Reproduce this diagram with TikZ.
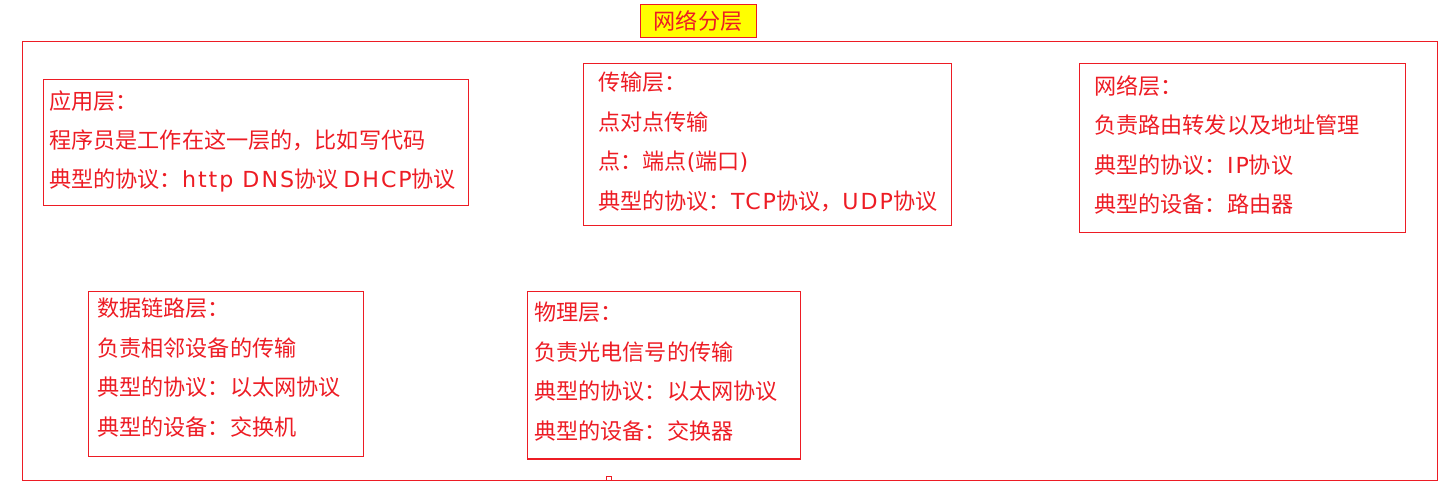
\documentclass[tikz,border=0pt]{standalone}
\usepackage{fontspec}
\newfontfamily\cjk{Noto Sans CJK SC}
\newfontfamily\lat[Scale=1.0, LetterSpace=9]{DejaVu Sans}
\definecolor{lr}{RGB}{237,28,36}
\definecolor{ly}{RGB}{255,255,0}
\newcommand{\la}[1]{{\lat #1}}

\begin{document}
\begin{tikzpicture}[
    x=0.75pt, y=-0.75pt,
    every node/.style={font=\cjk\fontsize{16.6}{29.6}\selectfont, text=lr},
    frame/.style={draw=lr, line width=0.75pt},
    ttl/.style={draw=lr, fill=ly, line width=0.75pt, inner sep=0pt,
                minimum width=87pt, minimum height=24.75pt},
    txt/.style={anchor=north west, align=left, inner sep=0pt},
  ]
  \useasboundingbox (0,0) rectangle (1453,491);
  \node[ttl] (title) at (698,21.5) {网络分层};
  \draw[frame] (22,42) rectangle (1437,480);
  \draw[frame, line width=0.6pt] (606,476.5) rectangle (611,480);
  % layers
  \draw[frame] (43,80) rectangle (468,206);
  \node[txt] (app) at (49,90) {应用层：\\程序员是工作在这一层的，比如写代码\\典型的协议：\la{http DNS}协议 \la{DHCP}协议};
  \draw[frame] (583,64) rectangle (951,226);
  \node[txt] (trans) at (598,72) {传输层：\\点对点传输\\点：端点\la{(}端口\la{)}\\典型的协议：\la{TCP}协议，\la{UDP}协议};
  \draw[frame] (1079,64) rectangle (1405,233);
  \node[txt] (net) at (1094,75) {网络层：\\负责路由转发以及地址管理\\典型的协议：\la{IP}协议\\典型的设备：路由器};
  \draw[frame] (88,292) rectangle (363,457);
  \node[txt] (link) at (97,298) {数据链路层：\\负责相邻设备的传输\\典型的协议：以太网协议\\典型的设备：交换机};
  \draw[frame] (527,292) rectangle (800,459);
  \node[txt] (phy) at (534,302) {物理层：\\负责光电信号的传输\\典型的协议：以太网协议\\典型的设备：交换器};
\end{tikzpicture}
\end{document}
